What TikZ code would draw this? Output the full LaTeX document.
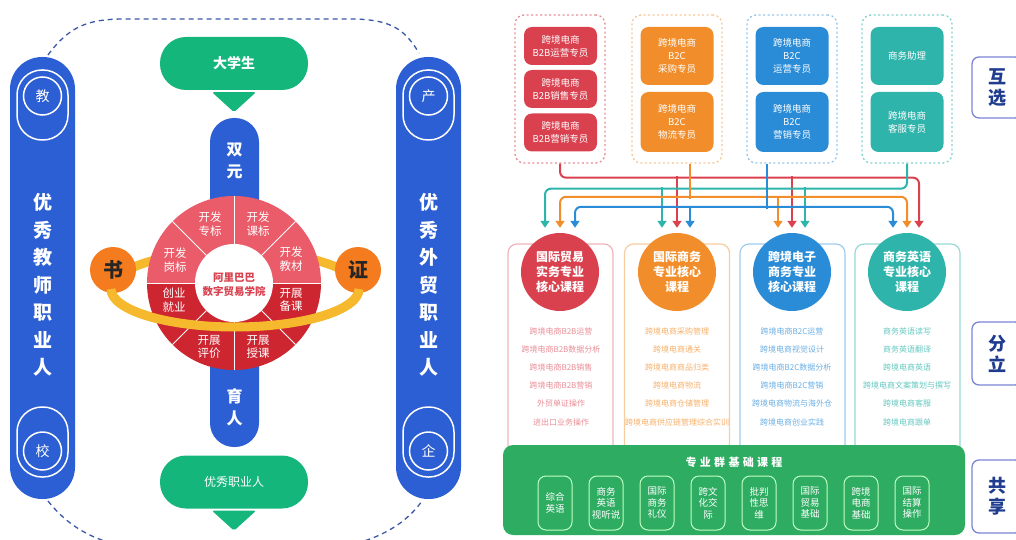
\documentclass[tikz,border=0pt]{standalone}
\usepackage{fontspec}
\setmainfont{Noto Sans CJK SC}
\newfontfamily\spacedcjk[LetterSpace=30]{Noto Sans CJK SC}
\usepackage{tikz}
\usetikzlibrary{positioning,calc,arrows.meta}

\definecolor{pillblue}{HTML}{2C5FD4}
\definecolor{pillgreen}{HTML}{14B67B}
\definecolor{wheeltop}{HTML}{EA5C69}
\definecolor{wheelbot}{HTML}{CD2631}
\definecolor{ringyellow}{HTML}{F6B82C}
\definecolor{badgeorange}{HTML}{F47B1E}
\definecolor{loopblue}{HTML}{3A58A6}
\definecolor{redc}{HTML}{D9414F}
\definecolor{orangec}{HTML}{F18E2B}
\definecolor{bluec}{HTML}{2A8BD7}
\definecolor{tealc}{HTML}{2FB4AB}
\definecolor{basegreen}{HTML}{2EAD62}
\definecolor{tagborder}{HTML}{7B84D6}
\definecolor{tagtext}{HTML}{1F3C8E}

\begin{document}
\begin{tikzpicture}[
    x=1pt, y=-1pt,
    bluepill/.style={fill=pillblue, rounded corners=32pt, minimum width=65pt, minimum height=442pt, inner sep=0pt},
    ring/.style={draw=white, line width=1.5pt, rounded corners=25pt, minimum width=51pt, minimum height=70pt, inner sep=0pt},
    badge/.style={circle, draw=white, line width=1.5pt, minimum size=38pt, inner sep=0pt, text=white, font=\fontsize{14}{14}\selectfont},
    vtext/.style={text=white, align=center, font=\fontsize{19}{27.5}\selectfont\bfseries},
    greenpill/.style={fill=pillgreen, rounded corners=26pt, minimum width=148pt, minimum height=53pt, text=white},
    seg/.style={text=white, align=center, inner sep=0pt, font=\fontsize{11.5}{13.5}\selectfont},
    ringband/.style={draw=ringyellow, line width=9pt},
    grpbox/.style={rounded corners=9pt, line width=1.3pt, dash pattern=on 2pt off 2.5pt, minimum width=90pt, minimum height=148pt},
    jobbox/.style={rounded corners=8pt, minimum width=73pt, text=white, align=center, inner sep=1pt, font=\fontsize{9.5}{13}\selectfont},
    crscirc/.style={circle, minimum size=78pt, inner sep=0pt, text=white, align=center, font=\fontsize{12}{15}\selectfont\bfseries},
    colframe/.style={rounded corners=9pt, line width=1.2pt, minimum width=105pt, minimum height=220pt},
    item/.style={font=\fontsize{8}{8}\selectfont, inner sep=0pt},
    flowline/.style={line width=2pt, rounded corners=6pt, -{Triangle[width=9pt,length=7pt]}},
    bothtips/.style={{Triangle[width=9pt,length=7pt]}-{Triangle[width=9pt,length=7pt]}},
    subbox/.style={draw=green!25!white, line width=1pt, rounded corners=8pt, minimum width=34pt, minimum height=54pt, inner sep=0pt, text=white, align=center, font=\fontsize{9.5}{11.5}\selectfont},
    tag/.style={draw=tagborder, fill=white, line width=1.3pt, rounded corners=7pt, minimum width=50pt, text=tagtext, align=center, font=\fontsize{18}{21}\selectfont\bfseries}
]
    \useasboundingbox (0,0) rectangle (1016,540);

    % ---------------- left part ----------------
    % dashed loop
    \draw[loopblue, line width=1.3pt, dash pattern=on 5pt off 4pt]
        (48,55) .. controls (70,25) and (90,19) .. (125,19) -- (350,19) .. controls (392,19) and (405,30) .. (419,53);
    \draw[loopblue, line width=1.3pt, dash pattern=on 5pt off 4pt]
        (48,501) .. controls (75,535) and (110,548) .. (160,550) -- (310,550) .. controls (360,548) and (400,532) .. (422,501);

    % side pillars
    \node[bluepill] (teach) at (42.5,278) {};
    \node[bluepill] (trade) at (428.5,278) {};
    \node[ring] (jiaoring) at (42.5,105) {};
    \node[badge] (jiao) at (42.5,96) {教};
    \node[ring] (xiaoring) at (42.5,442) {};
    \node[badge] (xiao) at (42.5,451) {校};
    \node[ring] (chanring) at (428.5,105) {};
    \node[badge] (chan) at (428.5,96) {产};
    \node[ring] (qiring) at (428.5,442) {};
    \node[badge] (qi) at (428.5,451) {企};
    \node[vtext] (teachtext) at (42.5,285) {优\\秀\\教\\师\\职\\业\\人};
    \node[vtext] (tradetext) at (428.5,285) {优\\秀\\外\\贸\\职\\业\\人};

    % centre column
    \node[fill=pillblue, rounded corners=24pt, minimum width=49pt, minimum height=329pt, inner sep=0pt] (dual) at (234.5,282.5) {};
    \node[vtext, font=\fontsize{16}{22}\selectfont\bfseries] (dualtop) at (234.5,161) {双\\元};
    \node[vtext, font=\fontsize{16}{22}\selectfont\bfseries] (dualbot) at (234.5,407) {育\\人};

    % green start / end
    \node[greenpill, font=\fontsize{14}{14}\selectfont\bfseries] (student) at (234,63.5) {大学生};
    \node[greenpill, font=\fontsize{12}{12}\selectfont] (graduate) at (234,482) {优秀职业人};
    \fill[pillgreen, rounded corners=2pt] ([xshift=-22pt,yshift=-2pt]student.south) -- ([xshift=22pt,yshift=-2pt]student.south) -- ([yshift=-22pt]student.south) -- cycle;
    \fill[pillgreen, rounded corners=2pt] ([xshift=-22pt,yshift=-2pt]graduate.south) -- ([xshift=22pt,yshift=-2pt]graduate.south) -- ([yshift=-22pt]graduate.south) -- cycle;

    % wheel
    \begin{scope}[shift={(234,283)}, y=1pt]
        \draw[ringband] (1,-6) ellipse [x radius=124, y radius=38];
        \fill[wheeltop] (0,0) -- (0:87) arc[start angle=0, end angle=180, radius=87] -- cycle;
        \fill[wheelbot] (0,0) -- (180:87) arc[start angle=180, end angle=360, radius=87] -- cycle;
        \foreach \a in {0,45,...,315}
            \draw[white, line width=1pt] (\a:39) -- (\a:87);
        \fill[white] (0,0) circle[radius=39];
        \node[seg] (seg1) at (57,24) {开发\\教材};
        \node[seg] (seg2) at (24,59) {开发\\课标};
        \node[seg] (seg3) at (-24,59) {开发\\专标};
        \node[seg] (seg4) at (-59,23) {开发\\岗标};
        \node[seg] (seg5) at (-60,-17) {创业\\就业};
        \node[seg] (seg6) at (-25,-64) {开展\\评价};
        \node[seg] (seg7) at (24,-64) {开展\\授课};
        \node[seg] (seg8) at (57,-17) {开展\\备课};
        \node[align=center, text=redc, inner sep=0pt, font=\fontsize{10.5}{14}\selectfont\bfseries] (academy) at (0,-2) {阿里巴巴\\数字贸易学院};
        \node[circle, fill=badgeorange, minimum size=46pt, inner sep=0pt, text=black!85, font=\fontsize{20}{20}\selectfont\bfseries] (shu) at (-121,13) {书};
        \node[circle, fill=badgeorange, minimum size=46pt, inner sep=0pt, text=black!85, font=\fontsize{20}{20}\selectfont\bfseries] (zheng) at (124,13) {证};
        \draw[ringband] (1,-6) ++(180:124 and 38) arc[start angle=180, end angle=360, x radius=124, y radius=38];
    \end{scope}

    % ---------------- right part ----------------
    % job groups
    \node[grpbox, draw=redc!60] (grpA) at (560,89) {};
    \node[grpbox, draw=orangec!50] (grpB) at (677,89) {};
    \node[grpbox, draw=bluec!50] (grpC) at (792,89) {};
    \node[grpbox, draw=tealc!60] (grpD) at (907,89) {};

    \node[jobbox, fill=redc, minimum height=38pt] (jobA1) at (560.5,46) {跨境电商\\B2B运营专员};
    \node[jobbox, fill=redc, minimum height=38pt] (jobA2) at (560.5,89) {跨境电商\\B2B销售专员};
    \node[jobbox, fill=redc, minimum height=38pt] (jobA3) at (560.5,132.5) {跨境电商\\B2B营销专员};
    \node[jobbox, fill=orangec, minimum height=58pt] (jobB1) at (677,56) {跨境电商\\B2C\\采购专员};
    \node[jobbox, fill=orangec, minimum height=60pt] (jobB2) at (677,122) {跨境电商\\B2C\\物流专员};
    \node[jobbox, fill=bluec, minimum height=58pt] (jobC1) at (792,56) {跨境电商\\B2C\\运营专员};
    \node[jobbox, fill=bluec, minimum height=60pt] (jobC2) at (792,122) {跨境电商\\B2C\\营销专员};
    \node[jobbox, fill=tealc, minimum height=58pt] (jobD1) at (907,56) {商务助理};
    \node[jobbox, fill=tealc, minimum height=60pt] (jobD2) at (907,122) {跨境电商\\客服专员};

    % course columns
    \node[colframe, draw=redc!40] (colA) at (560.5,354) {};
    \node[colframe, draw=orangec!45] (colB) at (677,354) {};
    \node[colframe, draw=bluec!45] (colC) at (792.5,354) {};
    \node[colframe, draw=tealc!50] (colD) at (907.5,354) {};

    \node[crscirc, fill=redc] (crsA) at (560,272) {国际贸易\\实务专业\\核心课程};
    \node[crscirc, fill=orangec] (crsB) at (677,272) {国际商务\\专业核心\\课程};
    \node[crscirc, fill=bluec] (crsC) at (792,272) {跨境电子\\商务专业\\核心课程};
    \node[crscirc, fill=tealc] (crsD) at (907,272) {商务英语\\专业核心\\课程};

    \foreach \t [count=\k] in {跨境电商B2B运营,跨境电商B2B数据分析,跨境电商B2B销售,跨境电商B2B营销,外贸单证操作,进出口业务操作}
        \node[item, text=redc!60] (itA\k) at (561,{331+18.2*(\k-1)}) {\t};
    \foreach \t [count=\k] in {跨境电商采购管理,跨境电商通关,跨境电商商品归类,跨境电商物流,跨境电商仓储管理,跨境电商供应链管理综合实训}
        \node[item, text=orangec!70] (itB\k) at (677,{331+18.2*(\k-1)}) {\t};
    \foreach \t [count=\k] in {跨境电商B2C运营,跨境电商视觉设计,跨境电商B2C数据分析,跨境电商B2C营销,跨境电商物流与海外仓,跨境电商创业实践}
        \node[item, text=bluec!70] (itC\k) at (792,{331+18.2*(\k-1)}) {\t};
    \foreach \t [count=\k] in {商务英语读写,商务英语翻译,跨境电商英语,跨境电商文案策划与撰写,跨境电商客服,跨境电商跟单}
        \node[item, text=tealc!75] (itD\k) at (907,{331+18.2*(\k-1)}) {\t};

    % arrow ends above the course circles
    \coordinate (tipA1) at ([xshift=-15pt,yshift=5pt]crsA.north);
    \coordinate (tipA2) at ([yshift=5pt]crsA.north);
    \coordinate (tipA3) at ([xshift=15pt,yshift=5pt]crsA.north);
    \coordinate (tipB1) at ([xshift=-15pt,yshift=5pt]crsB.north);
    \coordinate (tipB2) at ([yshift=5pt]crsB.north);
    \coordinate (tipB3) at ([xshift=13pt,yshift=5pt]crsB.north);
    \coordinate (tipC1) at ([xshift=-14pt,yshift=5pt]crsC.north);
    \coordinate (tipC2) at ([yshift=5pt]crsC.north);
    \coordinate (tipC3) at ([xshift=13pt,yshift=5pt]crsC.north);
    \coordinate (tipD1) at ([xshift=-14pt,yshift=5pt]crsD.north);
    \coordinate (tipD2) at ([yshift=5pt]crsD.north);
    \coordinate (tipD3) at ([xshift=12pt,yshift=5pt]crsD.north);

    % red flow
    \draw[flowline, redc] (grpA.south) -- ++(0,14) -| (tipD3);
    \draw[flowline, redc] ([yshift=52pt]tipB2) -- (tipB2);
    \draw[flowline, redc] ([yshift=52pt]tipC2) -- (tipC2);
    % teal flow
    \draw[flowline, tealc] (grpD.south) -- ++(0,25) -| (tipA1);
    \draw[flowline, tealc] ([yshift=41pt]tipB1) -- (tipB1);
    \draw[flowline, tealc] ([yshift=41pt]tipC3) -- (tipC3);
    % orange flow
    \draw[line width=2pt, orangec] ([xshift=13pt]grpB.south) -- ++(0,35);
    \draw[flowline, bothtips, orangec] (tipA2) -- ++(0,-31) -| (tipD2);
    \draw[flowline, orangec] ([yshift=31pt]tipC1) -- (tipC1);
    % blue flow
    \draw[line width=2pt, bluec] ([xshift=-25pt]grpC.south) -- ++(0,45);
    \draw[flowline, bothtips, bluec] (tipA3) -- ++(0,-21) -| (tipD1);
    \draw[flowline, bluec] ([yshift=21pt]tipB3) -- (tipB3);

    % shared base courses
    \node[fill=basegreen, rounded corners=10pt, minimum width=462pt, minimum height=90pt] (base) at (734,490) {};
    \node[text=white, font=\spacedcjk\fontsize{11}{11}\selectfont\bfseries] (basetitle) at (734,462) {专业群基础课程};
    \foreach \t [count=\k] in {{综合\\英语},{商务\\英语\\视听说},{国际\\商务\\礼仪},{跨文\\化交\\际},{批判\\性思\\维},{国际\\贸易\\基础},{跨境\\电商\\基础},{国际\\结算\\操作}}
        \node[subbox] (sub\k) at ({555+51*(\k-1)},503) {\t};

    % side tags
    \node[tag, minimum height=61pt] (tagmutual) at (997,87.5) {互\\选};
    \node[tag, minimum height=63pt] (tagsplit) at (997,353.5) {分\\立};
    \node[tag, minimum height=73pt] (tagshare) at (997,496.5) {共\\享};
\end{tikzpicture}
\end{document}
